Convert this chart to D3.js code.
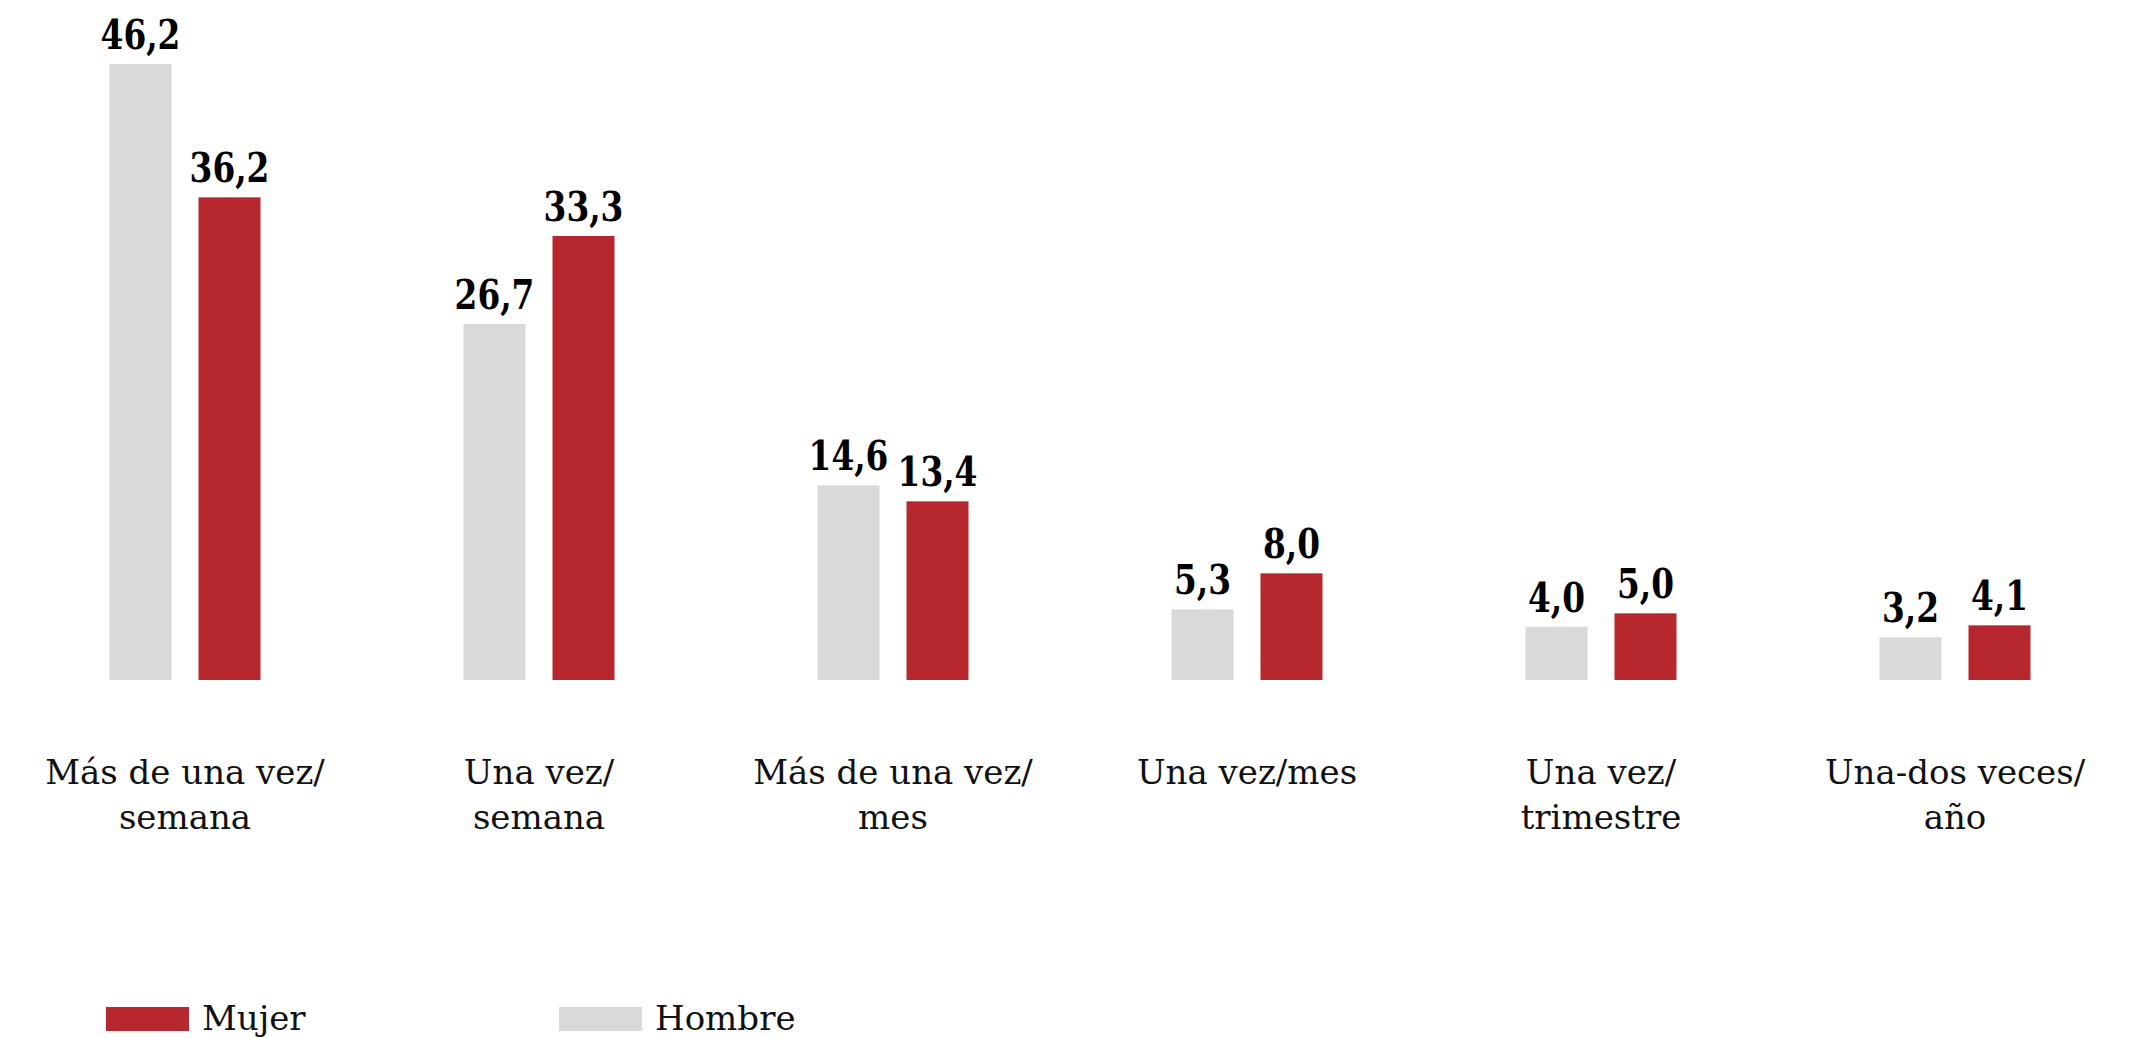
<!DOCTYPE html>
<html>
<head>
<meta charset="utf-8">
<script src="https://cdn.jsdelivr.net/npm/d3@7"></script>
<style>
  body { margin: 0; background: #fff; }
  .cat { font-family: "DejaVu Serif", serif; font-size: 34px; fill: #111; }
  .val { font-family: "DejaVu Serif", serif; font-weight: bold; font-size: 41px; fill: #000; }
  .leg { font-family: "DejaVu Serif", serif; font-size: 34px; fill: #111; }
</style>
</head>
<body>
<div id="chart"></div>
<script>
// data
var categories = [["Más de una vez/", "semana"], ["Una vez/", "semana"], ["Más de una vez/", "mes"],
                  ["Una vez/mes"], ["Una vez/", "trimestre"], ["Una-dos veces/", "año"]];
var series = ["Hombre", "Mujer"];
var hombre = [46.2, 26.7, 14.6, 5.3, 4.0, 3.2];
var mujer = [36.2, 33.3, 13.4, 8.0, 5.0, 4.1];
var legendOrder = ["Mujer", "Hombre"];

var W = 2146, H = 1038;
var color = d3.scaleOrdinal(series, ["#d9d9d9", "#b7282e"]);

var svg = d3.select("#chart").append("svg")
    .attr("width", W)
    .attr("height", H);

var keys = categories.map(function(c, i) { return i; });

var x0 = d3.scaleBand()
    .domain(keys)
    .range([8, 2132])
    .paddingInner(1 - 151 / 354)
    .paddingOuter((1 - 151 / 354) / 2);

var x1 = d3.scaleBand()
    .domain(series)
    .range([0, x0.bandwidth()])
    .paddingInner(0.3034);

var y = d3.scaleLinear()
    .domain([0, 51])
    .range([680, 0]);

var rows = keys.map(function(i) {
  return {key: i, values: [{s: "Hombre", v: hombre[i]}, {s: "Mujer", v: mujer[i]}]};
});

var fmt = function(v) { return d3.format(".1f")(v).replace(".", ","); };

var g = svg.selectAll(".grp")
    .data(rows)
    .enter().append("g")
      .attr("class", "grp")
      .attr("transform", function(d) { return "translate(" + x0(d.key) + ",0)"; });

g.selectAll("rect")
    .data(function(d) { return d.values; })
    .enter().append("rect")
      .attr("x", function(d) { return x1(d.s); })
      .attr("y", function(d) { return y(d.v); })
      .attr("width", x1.bandwidth())
      .attr("height", function(d) { return y(0) - y(d.v); })
      .attr("fill", function(d) { return color(d.s); });

// value labels, squeezed a bit to look like the slab condensed numbers
g.selectAll(".val")
    .data(function(d) { return d.values; })
    .enter().append("text")
      .attr("class", "val")
      .attr("transform", function(d) {
        return "translate(" + (x1(d.s) + x1.bandwidth() / 2) + "," + (y(d.v) - 15) + ") scale(0.8,1)";
      })
      .attr("text-anchor", "middle")
      .text(function(d) { return fmt(d.v); });

// category labels
svg.selectAll(".cat")
    .data(keys)
    .enter().append("text")
      .attr("class", "cat")
      .attr("text-anchor", "middle")
      .attr("transform", function(i) { return "translate(" + (x0(i) + x0.bandwidth() / 2) + ",784)"; })
      .selectAll("tspan")
      .data(function(i) { return categories[i]; })
      .enter().append("tspan")
        .attr("x", 0)
        .attr("y", function(t, j) { return j * 45; })
        .text(function(t) { return t; });

// legend
var leg = svg.selectAll(".legitem")
    .data(legendOrder)
    .enter().append("g")
      .attr("class", "legitem")
      .attr("transform", function(d, i) { return "translate(" + (106 + i * 453) + ",1007)"; });

leg.append("rect")
    .attr("width", 83)
    .attr("height", 24)
    .attr("fill", function(d) { return color(d); });

leg.append("text")
    .attr("class", "leg")
    .attr("x", 96)
    .attr("y", 23)
    .text(function(d) { return d; });
</script>
</body>
</html>
